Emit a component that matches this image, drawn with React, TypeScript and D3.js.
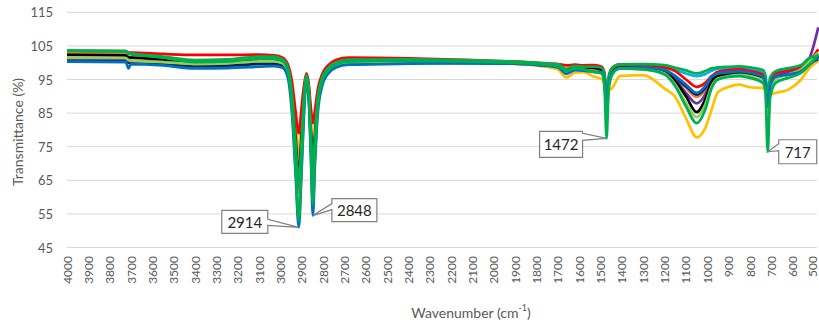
import React, { useEffect } from 'react';
import * as d3 from 'd3';

// wavenumber grid shared by all spectra (cm-1)
const wavenumbers = [
  4000, 3725, 3712, 3700, 3550, 3400, 3250, 3100, 3030, 2990,
  2965, 2945, 2930, 2914, 2902, 2890, 2878, 2868, 2858, 2848,
  2838, 2825, 2805, 2780, 2740, 2680, 2400, 2100, 1900, 1780,
  1700, 1660, 1620, 1580, 1530, 1495, 1482, 1472, 1462, 1445,
  1410, 1300, 1200, 1150, 1100, 1050, 1010, 980, 950, 900,
  850, 800, 740, 728, 717, 706, 680, 620, 560, 520, 480,
];

// transmittance (%) per sample
const red = [
  103.5, 103.4, 103.0, 103.0, 102.6, 102.3, 102.3, 102.4, 102.2, 101.5,
  99.5, 94, 86, 79, 86, 93, 96.8, 94, 87, 82,
  86, 92, 96.5, 99, 100.8, 101.5, 101.3, 100.8, 100.3, 99.9,
  99.6, 99.2, 99.4, 99.2, 99.3, 98.8, 97, 90.5, 95.5, 98.5,
  99.5, 99.3, 98.6, 97.5, 95, 92.8, 94, 96, 97.3, 97.8,
  98, 97.5, 96.5, 95, 89.5, 94.5, 97, 97.8, 98.7, 100.5, 104,
];
const black = [
  102.3, 102.2, 101.5, 101.5, 101, 100.3, 100.3, 100.8, 100.6, 100,
  97.5, 90, 78, 66, 77, 89, 95.5, 92, 80, 70,
  78, 89, 95, 97.8, 99.5, 100.3, 100.5, 100.2, 100, 99.5,
  99.2, 97.8, 98.5, 98.2, 98.5, 98, 95, 87, 94, 97.2,
  98.5, 98.3, 97.3, 94.5, 90, 85.3, 89, 94.3, 96, 96.3,
  96.8, 96.3, 95.3, 93.5, 85, 92.5, 95.5, 96.5, 97.5, 100, 102,
];
const yellow = [
  102.8, 102.7, 101.8, 101.6, 100.3, 99.3, 99.3, 100.1, 100.4, 99.8,
  97.5, 92, 83, 74, 82, 91, 96, 93, 83, 76,
  82, 90, 95, 97.6, 99.2, 100, 100.3, 100, 99.6, 99,
  98, 95.6, 97, 97.2, 95.8, 95.2, 93.5, 92, 91.8, 92.5,
  96, 96.3, 92.3, 89.8, 83.5, 77.8, 80.5, 86, 91.3, 92.8,
  93.5, 92.7, 92.5, 91.5, 90.3, 90.5, 91, 92, 95, 98.5, 100.5,
];
const green = [
  103.6, 103.5, 102.6, 102.5, 101.5, 100.2, 100.4, 101.2, 101.2, 100.5,
  97.5, 86, 70, 53, 68, 86, 95.5, 91, 75, 58,
  72, 87, 94.5, 97.5, 99.4, 100.3, 100.6, 100.3, 100, 99.5,
  99, 97.5, 98.3, 98, 97.2, 96.8, 93, 77.5, 92, 96.5,
  98.3, 98, 96.5, 93, 87, 82, 86, 92.4, 95, 95.8,
  96, 95.5, 94, 91.5, 73.5, 89.5, 94, 95.5, 97, 99.5, 102.5,
];
const lightGreen = [
  101.5, 101.4, 100.8, 100.6, 100.2, 99.6, 99.8, 100.4, 100.4, 99.8,
  97, 87, 72, 56, 70, 87, 95.5, 91.5, 77, 62,
  74, 88, 94.5, 97.3, 99.2, 100, 100.4, 100.2, 99.9, 99.4,
  99, 97.2, 98, 97.8, 97.5, 97, 94, 83, 93.5, 96.8,
  98.2, 98, 96.8, 93.5, 88, 83.8, 87.5, 93, 95.3, 96,
  96.4, 96, 94.8, 92.5, 80, 91, 95, 96.5, 98, 100.5, 103,
];
const blue = [
  100.3, 100.2, 98.3, 99.6, 99.2, 98.3, 98.4, 98.8, 99, 98.5,
  95.5, 84, 68, 51, 66, 84, 94.5, 89.5, 73, 54.5,
  70, 85, 93, 96.5, 98.6, 99.4, 99.7, 99.8, 99.7, 99.2,
  98.6, 96.7, 97.8, 97.6, 97.3, 97, 94.5, 86, 93.5, 97,
  98.3, 98.5, 97.8, 96, 93.5, 91, 93, 95.8, 96.8, 97.2,
  97.4, 97, 95.8, 93.5, 87, 93, 95.8, 96.5, 97.5, 99.5, 101.5,
];
const cyan = [
  101, 100.9, 100.2, 100.1, 100, 99.5, 99.6, 100.2, 100.2, 99.5,
  96.8, 87, 73, 58, 72, 88, 95.8, 92, 78, 64,
  76, 89, 95, 97.6, 99.3, 100, 100.4, 100.3, 100, 99.6,
  99.2, 97.4, 98.4, 98.2, 98, 97.6, 95, 89, 95, 97.6,
  98.8, 98.9, 98.6, 97.8, 96.8, 96, 96.6, 97.6, 98.2, 98.3,
  98.5, 98.2, 97.3, 95.5, 90, 94.5, 97, 97.8, 98.6, 100.6, 101.5,
];
const purple = [
  101.2, 101.1, 100.5, 100.4, 100.3, 99.8, 99.9, 100.5, 100.5, 99.9,
  97.2, 89, 76, 62, 75, 88.5, 95.8, 92, 79, 67,
  77, 89, 95, 97.6, 99.3, 100.1, 100.5, 100.3, 100, 99.6,
  99.2, 97.6, 98.4, 98.2, 98.2, 97.8, 95, 88, 94.5, 97.4,
  98.6, 98.5, 97.5, 95, 91, 87.9, 90.5, 94.8, 96.5, 97,
  97.3, 96.8, 95.8, 94, 88, 93.5, 96, 97.2, 98.4, 101.5, 110.5,
];
const navy = [
  101, 100.9, 100, 99.9, 99.6, 99, 99.1, 99.6, 99.7, 99.2,
  96.5, 88, 74, 60, 73, 88, 95, 91.5, 78, 66,
  76, 88.5, 94.5, 97.2, 99, 99.7, 100, 99.9, 99.7, 99.3,
  98.8, 97, 98, 97.8, 97.7, 97.4, 94.5, 85, 93.5, 97,
  98.3, 98.3, 97.5, 95.5, 93, 90.5, 92.5, 95.5, 96.6, 97,
  97.2, 96.7, 95.5, 93.5, 86, 92.8, 95.6, 96.5, 97.6, 99.8, 101,
];
const orange = [
  102.5, 102.4, 101.6, 101.5, 101, 100, 100.1, 100.8, 100.8, 100.2,
  97.8, 91, 80, 70, 79, 90, 96.2, 93, 82, 73,
  80, 89.5, 95.2, 97.8, 99.5, 100.3, 100.6, 100.4, 100.1, 99.7,
  99.2, 97.8, 98.5, 98.4, 98.5, 98.2, 95.8, 89, 95, 97.8,
  98.9, 98.8, 97.8, 96, 92.5, 89.8, 91.8, 95.2, 96.8, 97.3,
  97.6, 97.2, 96.2, 94.5, 88.5, 93.8, 96.4, 97.4, 98.3, 100.5, 102,
];
const greenTop = [
  103.5, 103.4, 102.8, 102.7, 101.8, 100.8, 101, 101.8, 101.8, 101,
  98.5, 90, 77, 64, 76, 89.5, 96.3, 92.5, 80, 68,
  78, 89.5, 95.5, 98.2, 100, 100.9, 101, 100.7, 100.3, 99.9,
  99.5, 98.2, 99, 98.8, 98.8, 98.5, 96.5, 90, 96, 98.5,
  99.5, 99.6, 99.3, 98.5, 97.7, 96.8, 97.5, 98.3, 98.6, 98.8,
  98.9, 98.6, 97.8, 96.2, 91, 95.5, 97.5, 98.4, 99.3, 101.5, 102,
];

// drawing order, bottom first
const series = [
  { name: 'yellow', values: yellow },
  { name: 'orange', values: orange },
  { name: 'cyan', values: cyan },
  { name: 'navy', values: navy },
  { name: 'purple', values: purple },
  { name: 'black', values: black },
  { name: 'red', values: red },
  { name: 'lightGreen', values: lightGreen },
  { name: 'greenTop', values: greenTop },
  { name: 'blue', values: blue },
  { name: 'green', values: green },
];

const colors: Record<string, string> = {
  yellow: '#FFC000',
  orange: '#ED7D31',
  cyan: '#00B0F0',
  navy: '#002060',
  purple: '#7030A0',
  black: '#000000',
  red: '#FF0000',
  lightGreen: '#92D050',
  greenTop: '#00B050',
  blue: '#0070C0',
  green: '#00B050',
};

const yTicks = [45, 55, 65, 75, 85, 95, 105, 115];
const xTicks = d3.range(4000, 499, -100);
const peakLabels = [2914, 2848, 1472, 717];

// callout box placement relative to the marked point
const calloutLayout: Record<number, { dx: number; dy: number; w: number; h: number; side: 'left' | 'right'; w0: number; w1: number }> = {
  2914: { dx: -77, dy: -17, w: 46, h: 23, side: 'right', w0: 9, w1: 15 },
  2848: { dx: 19, dy: -17, w: 45, h: 23, side: 'left', w0: 5, w1: 11 },
  1472: { dx: -67, dy: -7, w: 43, h: 26, side: 'right', w0: 2, w1: 9 },
  717: { dx: 11, dy: -12, w: 38, h: 24, side: 'left', w0: 4, w1: 11 },
};

const W = 819;
const H = 325;
const FONT = 'Lato, "Open Sans", sans-serif';

export default function App() {
  useEffect(() => {
    document.body.style.margin = '0';
  }, []);

  const x = d3.scaleLinear().domain([4000, 480]).range([67, 818.3]);
  const y = d3.scaleLinear().domain([45, 115]).range([247.5, 12.3]);

  const line = d3
    .line<number>()
    .x((_, i) => x(wavenumbers[i]))
    .y((d) => y(d))
    .curve(d3.curveMonotoneX);

  const callouts = peakLabels.map((wn) => {
    const i = wavenumbers.indexOf(wn);
    const v = d3.min(series, (s) => s.values[i]) ?? 0;
    const px = x(wn);
    const py = y(v);
    const L = calloutLayout[wn];
    const bx = px + L.dx;
    const by = py + L.dy;
    let path = '';
    if (L.side === 'right') {
      path = `M${bx},${by}H${bx + L.w}V${by + L.w0}L${px},${py}L${bx + L.w},${by + L.w1}V${by + L.h}H${bx}Z`;
    } else {
      path = `M${bx},${by}H${bx + L.w}V${by + L.h}H${bx}V${by + L.w1}L${px},${py}L${bx},${by + L.w0}Z`;
    }
    return { wn, path, cx: bx + L.w / 2, cy: by + L.h / 2 };
  });

  return (
    <svg width={W} height={H} style={{ display: 'block', background: '#fff' }} fontFamily={FONT}>
      {/* grid */}
      {yTicks.map((t) => (
        <line key={t} x1={67} x2={817} y1={y(t)} y2={y(t)} stroke="#d9d9d9" strokeWidth={1} />
      ))}
      {yTicks.map((t) => (
        <text key={'yl' + t} x={53} y={y(t)} textAnchor="end" dominantBaseline="central" fontSize={13} fill="#595959">
          {t}
        </text>
      ))}
      {xTicks.map((t) => (
        <text
          key={'xl' + t}
          transform={`translate(${Math.min(x(t), 812)},256) rotate(-90)`}
          textAnchor="end"
          dominantBaseline="central"
          fontSize={12}
          fill="#595959"
        >
          {t}
        </text>
      ))}

      {/* spectra */}
      {series.map((s) => (
        <path
          key={s.name}
          d={line(s.values) ?? ''}
          fill="none"
          stroke={colors[s.name]}
          strokeWidth={2.7}
          strokeLinejoin="round"
        />
      ))}

      {/* peak callouts */}
      {callouts.map((c) => (
        <g key={c.wn}>
          <path d={c.path} fill="#fff" stroke="#7f7f7f" strokeWidth={1.2} />
          <text x={c.cx} y={c.cy} textAnchor="middle" dominantBaseline="central" fontSize={15} fill="#262626">
            {c.wn}
          </text>
        </g>
      ))}

      {/* axis titles */}
      <text
        transform={`translate(17,${(y(45) + y(115)) / 2 + 2}) rotate(-90)`}
        textAnchor="middle"
        dominantBaseline="central"
        fontSize={14}
        fill="#595959"
      >
        Transmittance (%)
      </text>
      <text x={471} y={312} textAnchor="middle" dominantBaseline="central" fontSize={14} fill="#595959">
        Wavenumber (cm
        <tspan fontSize={9} dy={-5}>-1</tspan>
        <tspan dy={5}>)</tspan>
      </text>
    </svg>
  );
}
